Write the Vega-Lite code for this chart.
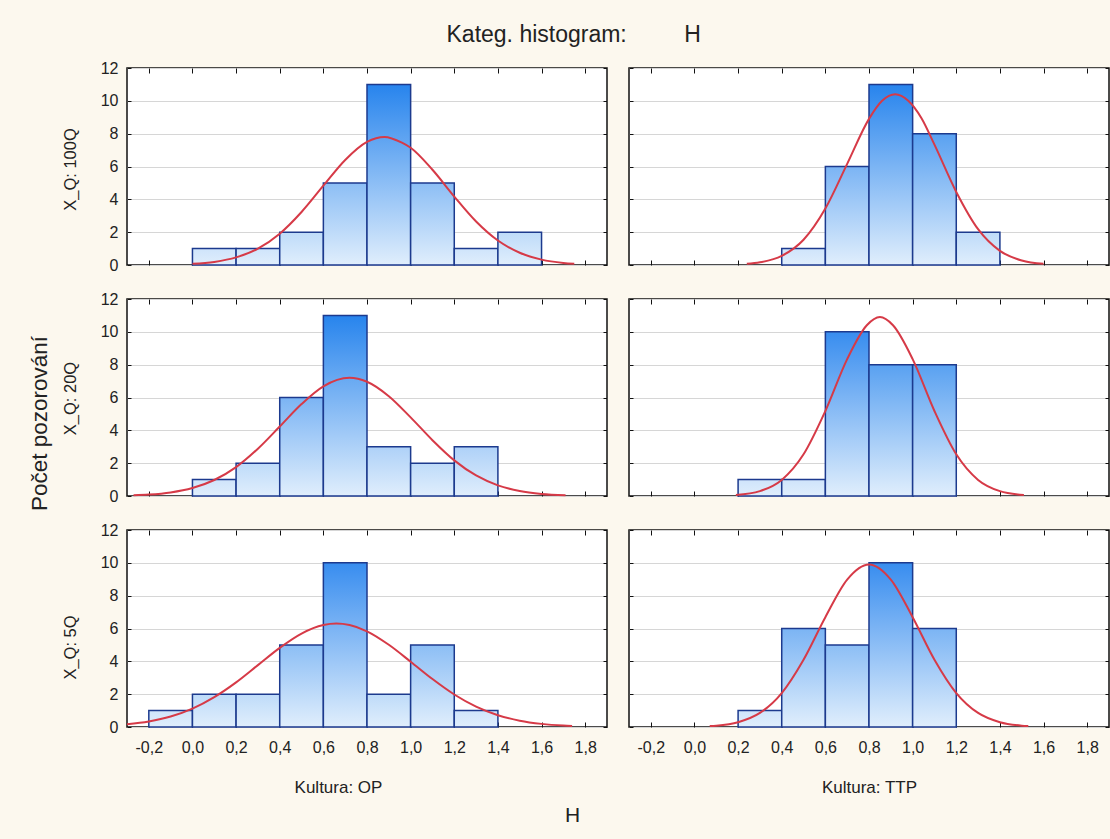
{
  "$schema": "https://vega.github.io/schema/vega-lite/v6.json",
  "background": "#FCF8EE",
  "padding": {"left": 27, "top": 22, "right": 1, "bottom": 14},
  "columns": 2,
  "spacing": {"row": 34, "column": 22},
  "bounds": "flush",
  "align": "all",
  "config": {
    "view": {"stroke": "#111111", "strokeWidth": 1.5, "fill": "white"},
    "font": "Liberation Sans",
    "axis": {"tickSize": -5, "tickColor": "#111111", "domain": false, "grid": false, "labelFont": "Liberation Sans", "labelFontSize": 16, "labelColor": "#222222", "titleFont": "Liberation Sans", "titleFontWeight": "normal", "titleColor": "#222222", "labelFlush": false, "labelOverlap": false, "gridColor": "#D6D6D6", "gridWidth": 1}
  },
  "datasets": {
    "d": [
      {"k":"OP","q":"100Q","t":"b","b0":0,"b1":0.2,"n":1},
      {"k":"OP","q":"100Q","t":"b","b0":0.2,"b1":0.4,"n":1},
      {"k":"OP","q":"100Q","t":"b","b0":0.4,"b1":0.6,"n":2},
      {"k":"OP","q":"100Q","t":"b","b0":0.6,"b1":0.8,"n":5},
      {"k":"OP","q":"100Q","t":"b","b0":0.8,"b1":1.0,"n":11},
      {"k":"OP","q":"100Q","t":"b","b0":1.0,"b1":1.2,"n":5},
      {"k":"OP","q":"100Q","t":"b","b0":1.2,"b1":1.4,"n":1},
      {"k":"OP","q":"100Q","t":"b","b0":1.4,"b1":1.6,"n":2},
      {"k":"TTP","q":"100Q","t":"b","b0":0.4,"b1":0.6,"n":1},
      {"k":"TTP","q":"100Q","t":"b","b0":0.6,"b1":0.8,"n":6},
      {"k":"TTP","q":"100Q","t":"b","b0":0.8,"b1":1.0,"n":11},
      {"k":"TTP","q":"100Q","t":"b","b0":1.0,"b1":1.2,"n":8},
      {"k":"TTP","q":"100Q","t":"b","b0":1.2,"b1":1.4,"n":2},
      {"k":"OP","q":"20Q","t":"b","b0":0,"b1":0.2,"n":1},
      {"k":"OP","q":"20Q","t":"b","b0":0.2,"b1":0.4,"n":2},
      {"k":"OP","q":"20Q","t":"b","b0":0.4,"b1":0.6,"n":6},
      {"k":"OP","q":"20Q","t":"b","b0":0.6,"b1":0.8,"n":11},
      {"k":"OP","q":"20Q","t":"b","b0":0.8,"b1":1.0,"n":3},
      {"k":"OP","q":"20Q","t":"b","b0":1.0,"b1":1.2,"n":2},
      {"k":"OP","q":"20Q","t":"b","b0":1.2,"b1":1.4,"n":3},
      {"k":"TTP","q":"20Q","t":"b","b0":0.2,"b1":0.4,"n":1},
      {"k":"TTP","q":"20Q","t":"b","b0":0.4,"b1":0.6,"n":1},
      {"k":"TTP","q":"20Q","t":"b","b0":0.6,"b1":0.8,"n":10},
      {"k":"TTP","q":"20Q","t":"b","b0":0.8,"b1":1.0,"n":8},
      {"k":"TTP","q":"20Q","t":"b","b0":1.0,"b1":1.2,"n":8},
      {"k":"OP","q":"5Q","t":"b","b0":-0.2,"b1":0,"n":1},
      {"k":"OP","q":"5Q","t":"b","b0":0,"b1":0.2,"n":2},
      {"k":"OP","q":"5Q","t":"b","b0":0.2,"b1":0.4,"n":2},
      {"k":"OP","q":"5Q","t":"b","b0":0.4,"b1":0.6,"n":5},
      {"k":"OP","q":"5Q","t":"b","b0":0.6,"b1":0.8,"n":10},
      {"k":"OP","q":"5Q","t":"b","b0":0.8,"b1":1.0,"n":2},
      {"k":"OP","q":"5Q","t":"b","b0":1.0,"b1":1.2,"n":5},
      {"k":"OP","q":"5Q","t":"b","b0":1.2,"b1":1.4,"n":1},
      {"k":"TTP","q":"5Q","t":"b","b0":0.2,"b1":0.4,"n":1},
      {"k":"TTP","q":"5Q","t":"b","b0":0.4,"b1":0.6,"n":6},
      {"k":"TTP","q":"5Q","t":"b","b0":0.6,"b1":0.8,"n":5},
      {"k":"TTP","q":"5Q","t":"b","b0":0.8,"b1":1.0,"n":10},
      {"k":"TTP","q":"5Q","t":"b","b0":1.0,"b1":1.2,"n":6},

      {"k":"OP","q":"100Q","t":"c","x":0.0,"y":0.069},
      {"k":"OP","q":"100Q","t":"c","x":0.1,"y":0.189},
      {"k":"OP","q":"100Q","t":"c","x":0.2,"y":0.462},
      {"k":"OP","q":"100Q","t":"c","x":0.3,"y":0.998},
      {"k":"OP","q":"100Q","t":"c","x":0.4,"y":1.908},
      {"k":"OP","q":"100Q","t":"c","x":0.5,"y":3.23},
      {"k":"OP","q":"100Q","t":"c","x":0.6,"y":4.83},
      {"k":"OP","q":"100Q","t":"c","x":0.7,"y":6.40},
      {"k":"OP","q":"100Q","t":"c","x":0.8,"y":7.50},
      {"k":"OP","q":"100Q","t":"c","x":0.88,"y":7.80},
      {"k":"OP","q":"100Q","t":"c","x":0.96,"y":7.45},
      {"k":"OP","q":"100Q","t":"c","x":1.0,"y":7.14},
      {"k":"OP","q":"100Q","t":"c","x":1.1,"y":5.80},
      {"k":"OP","q":"100Q","t":"c","x":1.2,"y":4.17},
      {"k":"OP","q":"100Q","t":"c","x":1.3,"y":2.65},
      {"k":"OP","q":"100Q","t":"c","x":1.4,"y":1.49},
      {"k":"OP","q":"100Q","t":"c","x":1.5,"y":0.744},
      {"k":"OP","q":"100Q","t":"c","x":1.6,"y":0.328},
      {"k":"OP","q":"100Q","t":"c","x":1.7,"y":0.128},
      {"k":"OP","q":"100Q","t":"c","x":1.75,"y":0.076},

      {"k":"TTP","q":"100Q","t":"c","x":0.24,"y":0.07},
      {"k":"TTP","q":"100Q","t":"c","x":0.3,"y":0.163},
      {"k":"TTP","q":"100Q","t":"c","x":0.4,"y":0.558},
      {"k":"TTP","q":"100Q","t":"c","x":0.5,"y":1.54},
      {"k":"TTP","q":"100Q","t":"c","x":0.6,"y":3.44},
      {"k":"TTP","q":"100Q","t":"c","x":0.7,"y":6.16},
      {"k":"TTP","q":"100Q","t":"c","x":0.8,"y":8.90},
      {"k":"TTP","q":"100Q","t":"c","x":0.86,"y":10.0},
      {"k":"TTP","q":"100Q","t":"c","x":0.92,"y":10.4},
      {"k":"TTP","q":"100Q","t":"c","x":0.98,"y":10.0},
      {"k":"TTP","q":"100Q","t":"c","x":1.04,"y":8.95},
      {"k":"TTP","q":"100Q","t":"c","x":1.1,"y":7.33},
      {"k":"TTP","q":"100Q","t":"c","x":1.2,"y":4.45},
      {"k":"TTP","q":"100Q","t":"c","x":1.3,"y":2.18},
      {"k":"TTP","q":"100Q","t":"c","x":1.4,"y":0.86},
      {"k":"TTP","q":"100Q","t":"c","x":1.5,"y":0.273},
      {"k":"TTP","q":"100Q","t":"c","x":1.6,"y":0.07},

      {"k":"OP","q":"20Q","t":"c","x":-0.27,"y":0.044},
      {"k":"OP","q":"20Q","t":"c","x":-0.2,"y":0.088},
      {"k":"OP","q":"20Q","t":"c","x":-0.1,"y":0.218},
      {"k":"OP","q":"20Q","t":"c","x":0.0,"y":0.485},
      {"k":"OP","q":"20Q","t":"c","x":0.1,"y":0.974},
      {"k":"OP","q":"20Q","t":"c","x":0.2,"y":1.76},
      {"k":"OP","q":"20Q","t":"c","x":0.3,"y":2.88},
      {"k":"OP","q":"20Q","t":"c","x":0.4,"y":4.23},
      {"k":"OP","q":"20Q","t":"c","x":0.5,"y":5.60},
      {"k":"OP","q":"20Q","t":"c","x":0.6,"y":6.68},
      {"k":"OP","q":"20Q","t":"c","x":0.72,"y":7.2},
      {"k":"OP","q":"20Q","t":"c","x":0.8,"y":6.96},
      {"k":"OP","q":"20Q","t":"c","x":0.9,"y":6.08},
      {"k":"OP","q":"20Q","t":"c","x":1.0,"y":4.79},
      {"k":"OP","q":"20Q","t":"c","x":1.1,"y":3.40},
      {"k":"OP","q":"20Q","t":"c","x":1.2,"y":2.17},
      {"k":"OP","q":"20Q","t":"c","x":1.3,"y":1.25},
      {"k":"OP","q":"20Q","t":"c","x":1.4,"y":0.65},
      {"k":"OP","q":"20Q","t":"c","x":1.5,"y":0.304},
      {"k":"OP","q":"20Q","t":"c","x":1.6,"y":0.128},
      {"k":"OP","q":"20Q","t":"c","x":1.71,"y":0.044},

      {"k":"TTP","q":"20Q","t":"c","x":0.19,"y":0.061},
      {"k":"TTP","q":"20Q","t":"c","x":0.3,"y":0.298},
      {"k":"TTP","q":"20Q","t":"c","x":0.4,"y":0.98},
      {"k":"TTP","q":"20Q","t":"c","x":0.5,"y":2.54},
      {"k":"TTP","q":"20Q","t":"c","x":0.6,"y":5.18},
      {"k":"TTP","q":"20Q","t":"c","x":0.7,"y":8.34},
      {"k":"TTP","q":"20Q","t":"c","x":0.79,"y":10.4},
      {"k":"TTP","q":"20Q","t":"c","x":0.85,"y":10.9},
      {"k":"TTP","q":"20Q","t":"c","x":0.91,"y":10.4},
      {"k":"TTP","q":"20Q","t":"c","x":1.0,"y":8.34},
      {"k":"TTP","q":"20Q","t":"c","x":1.1,"y":5.18},
      {"k":"TTP","q":"20Q","t":"c","x":1.2,"y":2.54},
      {"k":"TTP","q":"20Q","t":"c","x":1.3,"y":0.98},
      {"k":"TTP","q":"20Q","t":"c","x":1.4,"y":0.298},
      {"k":"TTP","q":"20Q","t":"c","x":1.51,"y":0.061},

      {"k":"OP","q":"5Q","t":"c","x":-0.3,"y":0.163},
      {"k":"OP","q":"5Q","t":"c","x":-0.2,"y":0.335},
      {"k":"OP","q":"5Q","t":"c","x":-0.1,"y":0.637},
      {"k":"OP","q":"5Q","t":"c","x":0.0,"y":1.12},
      {"k":"OP","q":"5Q","t":"c","x":0.1,"y":1.82},
      {"k":"OP","q":"5Q","t":"c","x":0.2,"y":2.72},
      {"k":"OP","q":"5Q","t":"c","x":0.3,"y":3.77},
      {"k":"OP","q":"5Q","t":"c","x":0.4,"y":4.82},
      {"k":"OP","q":"5Q","t":"c","x":0.5,"y":5.69},
      {"k":"OP","q":"5Q","t":"c","x":0.6,"y":6.21},
      {"k":"OP","q":"5Q","t":"c","x":0.66,"y":6.3},
      {"k":"OP","q":"5Q","t":"c","x":0.72,"y":6.21},
      {"k":"OP","q":"5Q","t":"c","x":0.8,"y":5.83},
      {"k":"OP","q":"5Q","t":"c","x":0.9,"y":5.01},
      {"k":"OP","q":"5Q","t":"c","x":1.0,"y":3.98},
      {"k":"OP","q":"5Q","t":"c","x":1.1,"y":2.92},
      {"k":"OP","q":"5Q","t":"c","x":1.2,"y":1.98},
      {"k":"OP","q":"5Q","t":"c","x":1.3,"y":1.24},
      {"k":"OP","q":"5Q","t":"c","x":1.4,"y":0.72},
      {"k":"OP","q":"5Q","t":"c","x":1.5,"y":0.384},
      {"k":"OP","q":"5Q","t":"c","x":1.6,"y":0.19},
      {"k":"OP","q":"5Q","t":"c","x":1.7,"y":0.086},
      {"k":"OP","q":"5Q","t":"c","x":1.74,"y":0.062},

      {"k":"TTP","q":"5Q","t":"c","x":0.07,"y":0.054},
      {"k":"TTP","q":"5Q","t":"c","x":0.1,"y":0.082},
      {"k":"TTP","q":"5Q","t":"c","x":0.2,"y":0.292},
      {"k":"TTP","q":"5Q","t":"c","x":0.3,"y":0.857},
      {"k":"TTP","q":"5Q","t":"c","x":0.4,"y":2.07},
      {"k":"TTP","q":"5Q","t":"c","x":0.5,"y":4.10},
      {"k":"TTP","q":"5Q","t":"c","x":0.6,"y":6.69},
      {"k":"TTP","q":"5Q","t":"c","x":0.7,"y":8.98},
      {"k":"TTP","q":"5Q","t":"c","x":0.8,"y":9.9},
      {"k":"TTP","q":"5Q","t":"c","x":0.9,"y":8.98},
      {"k":"TTP","q":"5Q","t":"c","x":1.0,"y":6.69},
      {"k":"TTP","q":"5Q","t":"c","x":1.1,"y":4.10},
      {"k":"TTP","q":"5Q","t":"c","x":1.2,"y":2.07},
      {"k":"TTP","q":"5Q","t":"c","x":1.3,"y":0.857},
      {"k":"TTP","q":"5Q","t":"c","x":1.4,"y":0.292},
      {"k":"TTP","q":"5Q","t":"c","x":1.5,"y":0.082},
      {"k":"TTP","q":"5Q","t":"c","x":1.53,"y":0.054}
    ]
  },
  "concat": [
    {
      "width": 480, "height": 197,
      "data": {"name": "d"},
      "transform": [{"filter": "datum.k == 'OP' && datum.q == '100Q'"}],
      "resolve": {"axis": {"x": "independent", "y": "independent"}},
      "layer": [
        {
          "transform": [{"filter": "datum.t == 'b'"}],
          "mark": {"type": "bar", "stroke": "#1C3A8E", "strokeWidth": 1.5},
          "encoding": {
            "x": {"field": "b0", "type": "quantitative", "scale": {"domain": [-0.3, 1.9], "nice": false, "zero": false}, "axis": {"orient": "bottom", "values": [-0.2,0,0.2,0.4,0.6,0.8,1,1.2,1.4,1.6,1.8], "labels": false, "title": null}},
            "x2": {"field": "b1"},
            "y": {"field": "n", "type": "quantitative", "scale": {"domain": [0, 12], "nice": false}, "axis": {"orient": "left", "values": [0,2,4,6,8,10,12], "tickSize": -4, "grid": true, "labelPadding": 13, "title": "X_Q: 100Q", "titleX": -57, "titleY": 101, "titleAngle": 270, "titleBaseline": "middle", "titleAlign": "center", "titleFontSize": 16.5}},
            "y2": {"datum": 0},
            "fill": {"condition": [
              {"test": "datum.n == 2", "value": {"gradient": "linear", "x1": 0, "y1": 0, "x2": 0, "y2": 1, "stops": [{"offset": 0, "color": "#BEDBF9"}, {"offset": 1, "color": "#E0EEFC"}]}},
              {"test": "datum.n == 5", "value": {"gradient": "linear", "x1": 0, "y1": 0, "x2": 0, "y2": 1, "stops": [{"offset": 0, "color": "#8CBEF5"}, {"offset": 1, "color": "#E0EEFC"}]}},
              {"test": "datum.n == 11", "value": {"gradient": "linear", "x1": 0, "y1": 0, "x2": 0, "y2": 1, "stops": [{"offset": 0, "color": "#2784ED"}, {"offset": 1, "color": "#E0EEFC"}]}}
            ], "value": {"gradient": "linear", "x1": 0, "y1": 0, "x2": 0, "y2": 1, "stops": [{"offset": 0, "color": "#CFE4FB"}, {"offset": 1, "color": "#E0EEFC"}]}}
          }
        },
        {
          "transform": [{"filter": "datum.t == 'c'"}],
          "mark": {"type": "line", "color": "#D63A47", "strokeWidth": 2, "interpolate": "monotone"},
          "encoding": {
            "x": {"field": "x", "type": "quantitative", "scale": {"domain": [-0.3, 1.9], "nice": false, "zero": false}, "axis": {"orient": "top", "values": [-0.2,0,0.2,0.4,0.6,0.8,1,1.2,1.4,1.6,1.8], "labels": false, "title": "Kateg. histogram:\u00a0\u00a0\u00a0\u00a0\u00a0\u00a0\u00a0\u00a0\u00a0H", "titleX": 319, "titleY": -34, "titleAlign": "left", "titleBaseline": "middle", "titleFontSize": 23, "titleAngle": 0}},
            "y": {"field": "y", "type": "quantitative", "scale": {"domain": [0, 12], "nice": false}, "axis": {"orient": "right", "values": [0,2,4,6,8,10,12], "tickSize": -4, "labels": false, "title": null}}
          }
        }
      ]
    },
    {
      "width": 480, "height": 197,
      "data": {"name": "d"},
      "transform": [{"filter": "datum.k == 'TTP' && datum.q == '100Q'"}],
      "resolve": {"axis": {"x": "independent", "y": "independent"}},
      "layer": [
        {
          "transform": [{"filter": "datum.t == 'b'"}],
          "mark": {"type": "bar", "stroke": "#1C3A8E", "strokeWidth": 1.5},
          "encoding": {
            "x": {"field": "b0", "type": "quantitative", "scale": {"domain": [-0.3, 1.9], "nice": false, "zero": false}, "axis": {"orient": "bottom", "values": [-0.2,0,0.2,0.4,0.6,0.8,1,1.2,1.4,1.6,1.8], "labels": false, "title": null}},
            "x2": {"field": "b1"},
            "y": {"field": "n", "type": "quantitative", "scale": {"domain": [0, 12], "nice": false}, "axis": {"orient": "left", "values": [0,2,4,6,8,10,12], "tickSize": -4, "grid": true, "labels": false, "title": null}},
            "y2": {"datum": 0},
            "fill": {"condition": [
              {"test": "datum.n == 2", "value": {"gradient": "linear", "x1": 0, "y1": 0, "x2": 0, "y2": 1, "stops": [{"offset": 0, "color": "#BEDBF9"}, {"offset": 1, "color": "#E0EEFC"}]}},
              {"test": "datum.n == 6", "value": {"gradient": "linear", "x1": 0, "y1": 0, "x2": 0, "y2": 1, "stops": [{"offset": 0, "color": "#7BB4F4"}, {"offset": 1, "color": "#E0EEFC"}]}},
              {"test": "datum.n == 8", "value": {"gradient": "linear", "x1": 0, "y1": 0, "x2": 0, "y2": 1, "stops": [{"offset": 0, "color": "#59A1F1"}, {"offset": 1, "color": "#E0EEFC"}]}},
              {"test": "datum.n == 11", "value": {"gradient": "linear", "x1": 0, "y1": 0, "x2": 0, "y2": 1, "stops": [{"offset": 0, "color": "#2784ED"}, {"offset": 1, "color": "#E0EEFC"}]}}
            ], "value": {"gradient": "linear", "x1": 0, "y1": 0, "x2": 0, "y2": 1, "stops": [{"offset": 0, "color": "#CFE4FB"}, {"offset": 1, "color": "#E0EEFC"}]}}
          }
        },
        {
          "transform": [{"filter": "datum.t == 'c'"}],
          "mark": {"type": "line", "color": "#D63A47", "strokeWidth": 2, "interpolate": "monotone"},
          "encoding": {
            "x": {"field": "x", "type": "quantitative", "scale": {"domain": [-0.3, 1.9], "nice": false, "zero": false}, "axis": {"orient": "top", "values": [-0.2,0,0.2,0.4,0.6,0.8,1,1.2,1.4,1.6,1.8], "labels": false, "title": null}},
            "y": {"field": "y", "type": "quantitative", "scale": {"domain": [0, 12], "nice": false}, "axis": {"orient": "right", "values": [0,2,4,6,8,10,12], "tickSize": -4, "labels": false, "title": null}}
          }
        }
      ]
    },
    {
      "width": 480, "height": 197,
      "data": {"name": "d"},
      "transform": [{"filter": "datum.k == 'OP' && datum.q == '20Q'"}],
      "resolve": {"axis": {"x": "independent", "y": "independent"}},
      "layer": [
        {
          "transform": [{"filter": "datum.t == 'b'"}],
          "mark": {"type": "bar", "stroke": "#1C3A8E", "strokeWidth": 1.5},
          "encoding": {
            "x": {"field": "b0", "type": "quantitative", "scale": {"domain": [-0.3, 1.9], "nice": false, "zero": false}, "axis": {"orient": "bottom", "values": [-0.2,0,0.2,0.4,0.6,0.8,1,1.2,1.4,1.6,1.8], "labels": false, "title": null}},
            "x2": {"field": "b1"},
            "y": {"field": "n", "type": "quantitative", "scale": {"domain": [0, 12], "nice": false}, "axis": {"orient": "left", "values": [0,2,4,6,8,10,12], "tickSize": -4, "grid": true, "labelPadding": 13, "title": "X_Q: 20Q", "titleX": -57, "titleY": 99, "titleAngle": 270, "titleBaseline": "middle", "titleAlign": "center", "titleFontSize": 16.5}},
            "y2": {"datum": 0},
            "fill": {"condition": [
              {"test": "datum.n == 2", "value": {"gradient": "linear", "x1": 0, "y1": 0, "x2": 0, "y2": 1, "stops": [{"offset": 0, "color": "#BEDBF9"}, {"offset": 1, "color": "#E0EEFC"}]}},
              {"test": "datum.n == 3", "value": {"gradient": "linear", "x1": 0, "y1": 0, "x2": 0, "y2": 1, "stops": [{"offset": 0, "color": "#AED1F8"}, {"offset": 1, "color": "#E0EEFC"}]}},
              {"test": "datum.n == 6", "value": {"gradient": "linear", "x1": 0, "y1": 0, "x2": 0, "y2": 1, "stops": [{"offset": 0, "color": "#7BB4F4"}, {"offset": 1, "color": "#E0EEFC"}]}},
              {"test": "datum.n == 11", "value": {"gradient": "linear", "x1": 0, "y1": 0, "x2": 0, "y2": 1, "stops": [{"offset": 0, "color": "#2784ED"}, {"offset": 1, "color": "#E0EEFC"}]}}
            ], "value": {"gradient": "linear", "x1": 0, "y1": 0, "x2": 0, "y2": 1, "stops": [{"offset": 0, "color": "#CFE4FB"}, {"offset": 1, "color": "#E0EEFC"}]}}
          }
        },
        {
          "transform": [{"filter": "datum.t == 'c'"}],
          "mark": {"type": "line", "color": "#D63A47", "strokeWidth": 2, "interpolate": "monotone"},
          "encoding": {
            "x": {"field": "x", "type": "quantitative", "scale": {"domain": [-0.3, 1.9], "nice": false, "zero": false}, "axis": {"orient": "top", "values": [-0.2,0,0.2,0.4,0.6,0.8,1,1.2,1.4,1.6,1.8], "labels": false, "title": null}},
            "y": {"field": "y", "type": "quantitative", "scale": {"domain": [0, 12], "nice": false}, "axis": {"orient": "right", "values": [0,2,4,6,8,10,12], "tickSize": -4, "labels": false, "title": null}}
          }
        },
        {
          "transform": [{"filter": "datum.t == 'c'"}],
          "mark": {"type": "point", "opacity": 0},
          "encoding": {
            "x": {"field": "x", "type": "quantitative", "scale": {"domain": [-0.3, 1.9], "nice": false, "zero": false}, "axis": null},
            "y": {"field": "y", "type": "quantitative", "scale": {"domain": [0, 12], "nice": false}, "axis": {"orient": "left", "labels": false, "ticks": false, "grid": false, "domain": false, "title": "Počet pozorování", "titleX": -88, "titleY": 124, "titleAngle": 270, "titleBaseline": "middle", "titleAlign": "center", "titleFontSize": 22.5}}
          }
        }
      ]
    },
    {
      "width": 480, "height": 197,
      "data": {"name": "d"},
      "transform": [{"filter": "datum.k == 'TTP' && datum.q == '20Q'"}],
      "resolve": {"axis": {"x": "independent", "y": "independent"}},
      "layer": [
        {
          "transform": [{"filter": "datum.t == 'b'"}],
          "mark": {"type": "bar", "stroke": "#1C3A8E", "strokeWidth": 1.5},
          "encoding": {
            "x": {"field": "b0", "type": "quantitative", "scale": {"domain": [-0.3, 1.9], "nice": false, "zero": false}, "axis": {"orient": "bottom", "values": [-0.2,0,0.2,0.4,0.6,0.8,1,1.2,1.4,1.6,1.8], "labels": false, "title": null}},
            "x2": {"field": "b1"},
            "y": {"field": "n", "type": "quantitative", "scale": {"domain": [0, 12], "nice": false}, "axis": {"orient": "left", "values": [0,2,4,6,8,10,12], "tickSize": -4, "grid": true, "labels": false, "title": null}},
            "y2": {"datum": 0},
            "fill": {"condition": [
              {"test": "datum.n == 8", "value": {"gradient": "linear", "x1": 0, "y1": 0, "x2": 0, "y2": 1, "stops": [{"offset": 0, "color": "#59A1F1"}, {"offset": 1, "color": "#E0EEFC"}]}},
              {"test": "datum.n == 10", "value": {"gradient": "linear", "x1": 0, "y1": 0, "x2": 0, "y2": 1, "stops": [{"offset": 0, "color": "#388DEF"}, {"offset": 1, "color": "#E0EEFC"}]}}
            ], "value": {"gradient": "linear", "x1": 0, "y1": 0, "x2": 0, "y2": 1, "stops": [{"offset": 0, "color": "#CFE4FB"}, {"offset": 1, "color": "#E0EEFC"}]}}
          }
        },
        {
          "transform": [{"filter": "datum.t == 'c'"}],
          "mark": {"type": "line", "color": "#D63A47", "strokeWidth": 2, "interpolate": "monotone"},
          "encoding": {
            "x": {"field": "x", "type": "quantitative", "scale": {"domain": [-0.3, 1.9], "nice": false, "zero": false}, "axis": {"orient": "top", "values": [-0.2,0,0.2,0.4,0.6,0.8,1,1.2,1.4,1.6,1.8], "labels": false, "title": null}},
            "y": {"field": "y", "type": "quantitative", "scale": {"domain": [0, 12], "nice": false}, "axis": {"orient": "right", "values": [0,2,4,6,8,10,12], "tickSize": -4, "labels": false, "title": null}}
          }
        }
      ]
    },
    {
      "width": 480, "height": 197,
      "data": {"name": "d"},
      "transform": [{"filter": "datum.k == 'OP' && datum.q == '5Q'"}],
      "resolve": {"axis": {"x": "independent", "y": "independent"}},
      "layer": [
        {
          "transform": [{"filter": "datum.t == 'b'"}],
          "mark": {"type": "bar", "stroke": "#1C3A8E", "strokeWidth": 1.5},
          "encoding": {
            "x": {"field": "b0", "type": "quantitative", "scale": {"domain": [-0.3, 1.9], "nice": false, "zero": false}, "axis": {"orient": "bottom", "values": [-0.2,0,0.2,0.4,0.6,0.8,1,1.2,1.4,1.6,1.8], "labelPadding": 17, "labelExpr": "replace(replace(format(datum.value, '.1f'), '.', ','), '\u2212', '-')", "title": "Kultura: OP", "titleX": 211, "titleY": 60, "titleBaseline": "middle", "titleAlign": "center", "titleFontSize": 17}},
            "x2": {"field": "b1"},
            "y": {"field": "n", "type": "quantitative", "scale": {"domain": [0, 12], "nice": false}, "axis": {"orient": "left", "values": [0,2,4,6,8,10,12], "tickSize": -4, "grid": true, "labelPadding": 13, "title": "X_Q: 5Q", "titleX": -57, "titleY": 117, "titleAngle": 270, "titleBaseline": "middle", "titleAlign": "center", "titleFontSize": 16.5}},
            "y2": {"datum": 0},
            "fill": {"condition": [
              {"test": "datum.n == 2", "value": {"gradient": "linear", "x1": 0, "y1": 0, "x2": 0, "y2": 1, "stops": [{"offset": 0, "color": "#BEDBF9"}, {"offset": 1, "color": "#E0EEFC"}]}},
              {"test": "datum.n == 5", "value": {"gradient": "linear", "x1": 0, "y1": 0, "x2": 0, "y2": 1, "stops": [{"offset": 0, "color": "#8CBEF5"}, {"offset": 1, "color": "#E0EEFC"}]}},
              {"test": "datum.n == 10", "value": {"gradient": "linear", "x1": 0, "y1": 0, "x2": 0, "y2": 1, "stops": [{"offset": 0, "color": "#388DEF"}, {"offset": 1, "color": "#E0EEFC"}]}}
            ], "value": {"gradient": "linear", "x1": 0, "y1": 0, "x2": 0, "y2": 1, "stops": [{"offset": 0, "color": "#CFE4FB"}, {"offset": 1, "color": "#E0EEFC"}]}}
          }
        },
        {
          "transform": [{"filter": "datum.t == 'c'"}],
          "mark": {"type": "line", "color": "#D63A47", "strokeWidth": 2, "interpolate": "monotone"},
          "encoding": {
            "x": {"field": "x", "type": "quantitative", "scale": {"domain": [-0.3, 1.9], "nice": false, "zero": false}, "axis": {"orient": "top", "values": [-0.2,0,0.2,0.4,0.6,0.8,1,1.2,1.4,1.6,1.8], "labels": false, "title": null}},
            "y": {"field": "y", "type": "quantitative", "scale": {"domain": [0, 12], "nice": false}, "axis": {"orient": "right", "values": [0,2,4,6,8,10,12], "tickSize": -4, "labels": false, "title": null}}
          }
        },
        {
          "transform": [{"filter": "datum.t == 'c'"}],
          "mark": {"type": "point", "opacity": 0},
          "encoding": {
            "x": {"field": "x", "type": "quantitative", "scale": {"domain": [-0.3, 1.9], "nice": false, "zero": false}, "axis": {"orient": "bottom", "labels": false, "ticks": false, "grid": false, "domain": false, "title": "H", "titleX": 445, "titleY": 88, "titleBaseline": "middle", "titleAlign": "center", "titleFontSize": 21}},
            "y": {"field": "y", "type": "quantitative", "scale": {"domain": [0, 12], "nice": false}, "axis": null}
          }
        }
      ]
    },
    {
      "width": 480, "height": 197,
      "data": {"name": "d"},
      "transform": [{"filter": "datum.k == 'TTP' && datum.q == '5Q'"}],
      "resolve": {"axis": {"x": "independent", "y": "independent"}},
      "layer": [
        {
          "transform": [{"filter": "datum.t == 'b'"}],
          "mark": {"type": "bar", "stroke": "#1C3A8E", "strokeWidth": 1.5},
          "encoding": {
            "x": {"field": "b0", "type": "quantitative", "scale": {"domain": [-0.3, 1.9], "nice": false, "zero": false}, "axis": {"orient": "bottom", "values": [-0.2,0,0.2,0.4,0.6,0.8,1,1.2,1.4,1.6,1.8], "labelPadding": 17, "labelExpr": "replace(replace(format(datum.value, '.1f'), '.', ','), '\u2212', '-')", "title": "Kultura: TTP", "titleX": 240, "titleY": 60, "titleBaseline": "middle", "titleAlign": "center", "titleFontSize": 17}},
            "x2": {"field": "b1"},
            "y": {"field": "n", "type": "quantitative", "scale": {"domain": [0, 12], "nice": false}, "axis": {"orient": "left", "values": [0,2,4,6,8,10,12], "tickSize": -4, "grid": true, "labels": false, "title": null}},
            "y2": {"datum": 0},
            "fill": {"condition": [
              {"test": "datum.n == 5", "value": {"gradient": "linear", "x1": 0, "y1": 0, "x2": 0, "y2": 1, "stops": [{"offset": 0, "color": "#8CBEF5"}, {"offset": 1, "color": "#E0EEFC"}]}},
              {"test": "datum.n == 6", "value": {"gradient": "linear", "x1": 0, "y1": 0, "x2": 0, "y2": 1, "stops": [{"offset": 0, "color": "#7BB4F4"}, {"offset": 1, "color": "#E0EEFC"}]}},
              {"test": "datum.n == 10", "value": {"gradient": "linear", "x1": 0, "y1": 0, "x2": 0, "y2": 1, "stops": [{"offset": 0, "color": "#388DEF"}, {"offset": 1, "color": "#E0EEFC"}]}}
            ], "value": {"gradient": "linear", "x1": 0, "y1": 0, "x2": 0, "y2": 1, "stops": [{"offset": 0, "color": "#CFE4FB"}, {"offset": 1, "color": "#E0EEFC"}]}}
          }
        },
        {
          "transform": [{"filter": "datum.t == 'c'"}],
          "mark": {"type": "line", "color": "#D63A47", "strokeWidth": 2, "interpolate": "monotone"},
          "encoding": {
            "x": {"field": "x", "type": "quantitative", "scale": {"domain": [-0.3, 1.9], "nice": false, "zero": false}, "axis": {"orient": "top", "values": [-0.2,0,0.2,0.4,0.6,0.8,1,1.2,1.4,1.6,1.8], "labels": false, "title": null}},
            "y": {"field": "y", "type": "quantitative", "scale": {"domain": [0, 12], "nice": false}, "axis": {"orient": "right", "values": [0,2,4,6,8,10,12], "tickSize": -4, "labels": false, "title": null}}
          }
        }
      ]
    }
  ]
}
